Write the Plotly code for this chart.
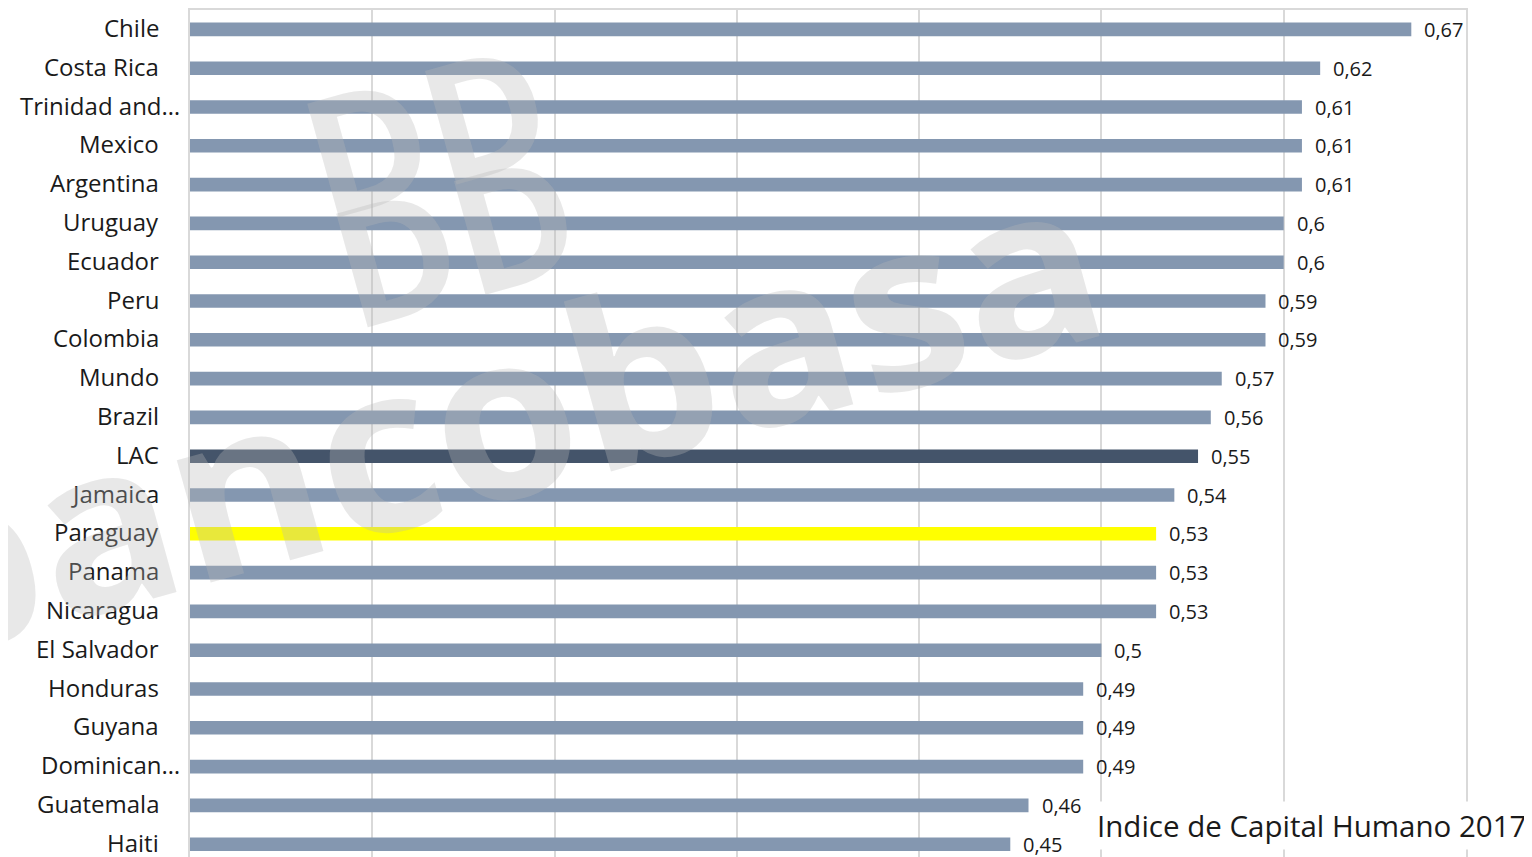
import plotly.graph_objects as go

# Human Capital Index 2017, Latin America & Caribbean
countries = [
    "Chile", "Costa Rica", "Trinidad and…", "Mexico", "Argentina", "Uruguay",
    "Ecuador", "Peru", "Colombia", "Mundo", "Brazil", "LAC", "Jamaica",
    "Paraguay", "Panama", "Nicaragua", "El Salvador", "Honduras", "Guyana",
    "Dominican…", "Guatemala", "Haiti",
]
values = [
    0.67, 0.62, 0.61, 0.61, 0.61, 0.60,
    0.60, 0.59, 0.59, 0.566, 0.56, 0.553, 0.54,
    0.53, 0.53, 0.53, 0.50, 0.49, 0.49,
    0.49, 0.46, 0.45,
]

BAR = "#8497B0"
HIGHLIGHT = {"LAC": "#44546A", "Paraguay": "#FFFF00"}
WM = "rgba(183,183,183,0.32)"
FONT = "Open Sans"
INK = "#1a1a1a"


def fmt(v):
    s = f"{v:.2f}".rstrip("0")
    return s.replace(".", ",")


colours = [HIGHLIGHT.get(c, BAR) for c in countries]

fig = go.Figure()
fig.add_trace(go.Bar(
    x=values,
    y=countries,
    orientation="h",
    marker=dict(color=colours, line=dict(width=0)),
    hoverinfo="x+y",
    showlegend=False,
))

# category labels (Excel lets the truncated ones spill past the column)
for c in countries:
    fig.add_annotation(
        xref="paper", x=0, y=c, text=c, showarrow=False,
        xanchor="right", yanchor="middle",
        xshift=-8 if c.endswith("…") else -29, yshift=2,
        font=dict(family=FONT, size=24, color=INK),
    )

# value labels, just right of each bar
for c, v in zip(countries, values):
    fig.add_annotation(
        x=v, y=c, text=fmt(v), showarrow=False,
        xanchor="left", yanchor="middle", xshift=11,
        font=dict(family=FONT, size=20, color=INK),
    )

# chart title, bottom right
fig.add_annotation(
    xref="paper", yref="paper", x=1.05, y=0.037,
    xanchor="right", yanchor="middle",
    text="Indice de Capital Humano 2017", showarrow=False,
    bgcolor="white", borderpad=3,
    font=dict(family=FONT, size=29.5, color=INK),
)

# watermark
fig.add_annotation(
    xref="paper", yref="paper", x=0.237, y=0.527,
    xanchor="center", yanchor="middle", textangle=-15.5,
    text="bancobasa", showarrow=False,
    font=dict(family=FONT, size=232, color=WM, weight="bold"),
)
for wx, wy in [(0.184, 0.862), (0.207, 0.732)]:
    fig.add_annotation(
        xref="paper", yref="paper", x=wx, y=wy,
        xanchor="center", yanchor="middle", textangle=-15.5,
        text="DD", showarrow=False,
        font=dict(family=FONT, size=165, color=WM, weight="bold"),
    )

# page body has an 8px margin, so the figure is sized to fit the window
fig.update_layout(
    width=1524, height=849,
    margin=dict(l=182, r=66, t=2, b=0),
    paper_bgcolor="white", plot_bgcolor="white",
    bargap=0.65,
    font=dict(family=FONT, size=24, color=INK),
    xaxis=dict(
        range=[0, 0.7], dtick=0.1, side="top",
        showticklabels=False, showgrid=True, automargin=False,
        gridcolor="#d9d9d9", gridwidth=2,
        zeroline=False, showline=True, linecolor="#d9d9d9", linewidth=2,
    ),
    yaxis=dict(
        categoryorder="array", categoryarray=countries,
        range=[21.33, -0.5], automargin=False,
        showgrid=False, zeroline=False, showticklabels=False,
        showline=True, mirror=True, linecolor="#d9d9d9", linewidth=2,
        ticks="",
    ),
)

fig.write_html("out.html")
